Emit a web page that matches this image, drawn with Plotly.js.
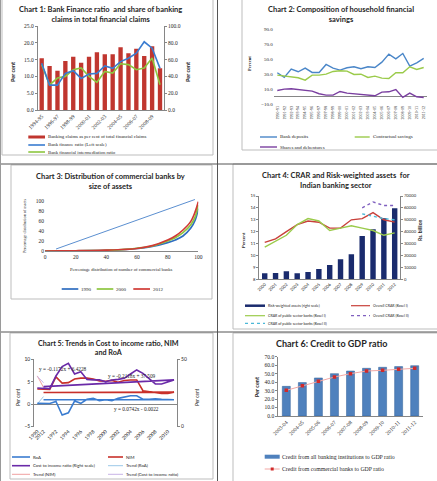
<!DOCTYPE html>
<html><head><meta charset="utf-8">
<script src="https://cdn.plot.ly/plotly-3.0.1.min.js"></script>
<style>html,body{margin:0;padding:0;background:#fff}#chart{width:437px;height:481px}</style>
</head><body><div id="chart"></div>
<script>
// ---------- DATA ----------
// Chart 1
const c1Years = ['1994-95','1995-96','1996-97','1997-98','1998-99','1999-00','2000-01','2001-02','2002-03','2003-04','2004-05','2005-06','2006-07','2007-08','2008-09','2009-10'];
const c1BankClaims = [61.5,52.4,46.8,58.3,63.5,56.3,63.5,68.7,66.3,66.3,74.6,67.5,73.0,64.3,75.8,49.6];
const c1FinanceRatio = [13.9,7.4,7.4,10.9,11.7,9.4,10.7,10.9,13.1,12.4,14.4,15.4,16.9,20.3,18.4,12.4];
const c1Intermediation = [54,30,38,40,48,50,40,33,46,44,55,54,48,50,62,30];
// Chart 2
const c2Years = ['1990-91','1991-92','1992-93','1993-94','1994-95','1995-96','1996-97','1997-98','1998-99','1999-00','2000-01','2001-02','2002-03','2003-04','2004-05','2005-06','2006-07','2007-08','2008-09','2009-10','2010-11','2011-12'];
const c2BankDeposits = [31.9,25.7,36.7,33.2,38.0,32.3,32.3,42.9,38.0,35.4,38.5,39.8,37.2,39.8,38.9,46.0,56.6,50.4,57.5,40.7,45.1,50.9];
const c2Contractual = [28.8,27.4,26.5,25.2,22.1,28.8,28.8,30.0,33.6,34.5,34.0,29.6,30.0,25.7,27.4,24.8,24.3,31.9,31.9,39.8,36.3,38.9];
const c2Shares = [8.4,10.2,10.6,9.7,9.3,7.5,4.0,2.2,2.2,7.0,4.9,4.0,2.2,2.2,1.3,6.2,6.6,9.7,-0.9,4.9,0.0,-0.9];
// Chart 3
const c3BanksPct = [0,10,20,30,40,50,60,70,80,85,90,95,98,100];
const c3Assets1990 = [0,0.2,0.4,0.7,1.2,2.5,5,9,16.7,22,30,45.3,62,85];
const c3Assets2000 = [0,0.2,0.4,0.8,1.4,2.8,5.5,10,20,26.7,36.7,52,68.7,92];
const c3Assets2012 = [0,0.2,0.5,0.9,1.6,3,5,10.7,22,30,42,58.7,78.7,98.7];
const c3LineX = [7.2,97.8];
const c3LineY = [4,103];
// Chart 4
const c4Years = ['2000','2001','2002','2003','2004','2005','2006','2007','2008','2009','2010','2011','2012'];
const c4RWA = [5000,5300,6700,5000,6200,8700,12000,16800,21000,36400,42000,51200,59700];
const c4OverallB1 = [11.1,11.4,12.0,12.6,12.9,12.8,12.3,12.3,13.0,13.1,13.6,13.0,12.8];
const c4PSBB1 = [10.7,11.2,11.7,12.6,13.1,12.9,12.1,12.3,12.5,12.3,12.1,11.7,11.9];
const c4OverallB2 = [null,null,null,null,null,null,null,null,null,14.0,14.5,14.2,14.2];
const c4PSBB2 = [null,null,null,null,null,null,null,null,null,13.5,13.3,13.1,13.0];
// Chart 5
const c5Years = ['1990','1991','1992','1993','1994','1995','1996','1997','1998','1999','2000','2001','2002','2003','2004','2005','2006','2007','2008','2009','2010','2011','2012'];
const c5RoA = [0.2,0.15,0.6,-2.4,-1.9,0.7,0.2,1.1,1.3,0.8,1.0,0.8,1.3,1.6,1.9,1.9,1.1,1.1,1.2,1.1,1.1,1.0,1.0];
const c5NIM = [3.4,3.3,6.1,4.7,4.8,5.6,5.8,5.8,5.6,5.2,5.1,5.3,4.9,5.3,5.4,5.4,3.0,2.8,2.6,2.4,2.4,2.7,2.6];
const c5CostIncome = [28.7,28.2,37.6,44.6,47.0,39.1,40.8,35.1,34.7,34.7,33.4,34.7,35.1,35.9,39.1,42.1,39.6,35.9,31.7,31.7,33.4,34.7,29.7];
const c5TrendRoA = [0.07,1.70];
const c5TrendNIM = [6.31,3.73];
const c5TrendCost = [37.30,32.64];
const c5Equations = ['y = -0.1172x + 6.4228','y = -0.2118x + 37.509','y = 0.0742x - 0.0022'];
// Chart 6
const c6Years = ['2003-04','2004-05','2005-06','2006-07','2007-08','2008-09','2009-10','2010-11','2011-12'];
const c6AllBanking = [35.0,39.4,44.9,50.0,53.1,56.3,57.5,58.3,59.4];
const c6Commercial = [30.3,35.8,40.9,46.0,50.0,53.1,53.9,55.1,56.3];

// ---------- HELPERS ----------
const W=437,H=481;
const X=p=>p/W, Y=p=>1-p/H;
const dom=(a,b)=>[X(a),X(b)];
const domY=(top,bot)=>[Y(bot),Y(top)];
const serif='Liberation Serif, serif';
const sans='Lato, Liberation Sans, sans-serif';
const grey='#868686';
const txt='#262626';
const evens=a=>a.filter((_,i)=>i%2===0);
const ends=a=>[a[0],a[a.length-1]];

function catAxis(d,n,extra){
  return Object.assign({domain:d,type:'category',range:[-0.5,n-0.5],showgrid:false,zeroline:false,
    showline:true,linecolor:grey,linewidth:1,ticks:'',fixedrange:true,automargin:false},extra);
}
function valAxis(extra){
  return Object.assign({showgrid:false,zeroline:false,showline:true,linecolor:grey,linewidth:1,
    ticks:'outside',ticklen:2,tickcolor:grey,fixedrange:true,automargin:false},extra);
}
const shapes=[];
const annotations=[];
function rect(x0,y0,x1,y1,line,fill,w){shapes.push({type:'rect',xref:'paper',yref:'paper',x0:X(x0),x1:X(x1),y0:Y(y1),y1:Y(y0),line:{color:line,width:w===undefined?1:w},fillcolor:fill||'rgba(0,0,0,0)',layer:'below'});}
function hline(x0,x1,y,color,w,dash){shapes.push({type:'line',xref:'paper',yref:'paper',x0:X(x0),x1:X(x1),y0:Y(y),y1:Y(y),line:{color:color,width:w,dash:dash||'solid'}});}
function vline(x,y0,y1,color,w){shapes.push({type:'line',xref:'paper',yref:'paper',x0:X(x),x1:X(x),y0:Y(y0),y1:Y(y1),line:{color:color,width:w}});}
function ann(x,y,text,size,family,opts){annotations.push(Object.assign({xref:'paper',yref:'paper',x:X(x),y:Y(y),text:text,showarrow:false,xanchor:'left',yanchor:'middle',borderpad:0,font:{size:size,family:family,color:txt}},opts||{}));}
function legRect(x0,x1,y,h,color){shapes.push({type:'rect',xref:'paper',yref:'paper',x0:X(x0),x1:X(x1),y0:Y(y+h/2),y1:Y(y-h/2),line:{width:0},fillcolor:color});}

// ---------- FRAMES / DIVIDERS ----------
rect(2,-1,213,155,'#BDBDBD');
rect(242,-1,438,150,'#BDBDBD');
rect(11,165,212,299,'#BDBDBD');
rect(233,164,438,329,'#BDBDBD');
rect(10,333,213,479,'#BDBDBD');
rect(233,333,438,485,'#BDBDBD');
vline(217.5,0,481,'#555555',1);
hline(0,437,164,'#555555',1);
hline(0,437,332,'#555555',1);
vline(0.5,0,481,'#9a9a9a',1);

// ---------- TRACES ----------
const traces=[
  // Chart 1
  {type:'bar',x:c1Years,y:c1BankClaims,xaxis:'x',yaxis:'y',width:0.55,marker:{color:'#C0362F',line:{width:0}}},
  {type:'scatter',mode:'lines',x:c1Years,y:c1Intermediation,xaxis:'x',yaxis:'y',line:{color:'#8DC63F',width:1.6}},
  {type:'scatter',mode:'lines',x:c1Years,y:c1FinanceRatio,xaxis:'x',yaxis:'y2',line:{color:'#3A7CD0',width:1.6}},
  // Chart 2
  {type:'scatter',mode:'lines',x:c2Years,y:c2BankDeposits,xaxis:'x2',yaxis:'y3',line:{color:'#4A86C8',width:1.4}},
  {type:'scatter',mode:'lines',x:c2Years,y:c2Contractual,xaxis:'x2',yaxis:'y3',line:{color:'#9BCB4B',width:1.4}},
  {type:'scatter',mode:'lines',x:c2Years,y:c2Shares,xaxis:'x2',yaxis:'y3',line:{color:'#7A3FA0',width:1.4}},
  // Chart 3
  {type:'scatter',mode:'lines',x:c3LineX,y:c3LineY,xaxis:'x3',yaxis:'y4',line:{color:'#5B8FD0',width:1}},
  {type:'scatter',mode:'lines',x:c3BanksPct,y:c3Assets1990,xaxis:'x3',yaxis:'y4',line:{color:'#2F6DC0',width:1.7,shape:'spline'}},
  {type:'scatter',mode:'lines',x:c3BanksPct,y:c3Assets2000,xaxis:'x3',yaxis:'y4',line:{color:'#8DC63F',width:1.7,shape:'spline'}},
  {type:'scatter',mode:'lines',x:c3BanksPct,y:c3Assets2012,xaxis:'x3',yaxis:'y4',line:{color:'#D03A35',width:1.7,shape:'spline'}},
  // Chart 4
  {type:'bar',x:c4Years,y:c4RWA,xaxis:'x4',yaxis:'y5',width:0.5,marker:{color:'#1A2B6D',line:{width:0}}},
  {type:'scatter',mode:'lines',x:c4Years,y:c4OverallB1,xaxis:'x4',yaxis:'y6',line:{color:'#C8403A',width:1.4}},
  {type:'scatter',mode:'lines',x:c4Years,y:c4PSBB1,xaxis:'x4',yaxis:'y6',line:{color:'#9BCB4B',width:1.4}},
  {type:'scatter',mode:'lines',x:c4Years,y:c4OverallB2,xaxis:'x4',yaxis:'y6',line:{color:'#7F5FBF',width:1.4,dash:'dot'}},
  {type:'scatter',mode:'lines',x:c4Years,y:c4PSBB2,xaxis:'x4',yaxis:'y6',line:{color:'#4BB8D8',width:1.4,dash:'dot'}},
  // Chart 5
  {type:'scatter',mode:'lines',x:ends(c5Years),y:c5TrendRoA,xaxis:'x5',yaxis:'y7',line:{color:'#9CC8E8',width:1}},
  {type:'scatter',mode:'lines',x:ends(c5Years),y:c5TrendNIM,xaxis:'x5',yaxis:'y7',line:{color:'#F0A0A0',width:1}},
  {type:'scatter',mode:'lines',x:c5Years,y:c5RoA,xaxis:'x5',yaxis:'y7',line:{color:'#3A7CD0',width:1.6}},
  {type:'scatter',mode:'lines',x:c5Years,y:c5NIM,xaxis:'x5',yaxis:'y7',line:{color:'#C8302A',width:1.6}},
  {type:'scatter',mode:'lines',x:ends(c5Years),y:c5TrendCost,xaxis:'x5',yaxis:'y8',line:{color:'#C9B3E6',width:1}},
  {type:'scatter',mode:'lines',x:c5Years,y:c5CostIncome,xaxis:'x5',yaxis:'y8',line:{color:'#6A2AA8',width:1.6}},
  // Chart 6
  {type:'bar',x:c6Years,y:c6AllBanking,xaxis:'x6',yaxis:'y9',width:0.5,marker:{color:'#4F81BD',line:{color:'#2E5E99',width:0.5}}},
  {type:'scatter',mode:'lines+markers',x:c6Years,y:c6Commercial,xaxis:'x6',yaxis:'y9',line:{color:'#F2A7A4',width:1},marker:{symbol:'square',size:3.5,color:'#D02A2A'}}
];

// ---------- AXES ----------
const f=(s,fam)=>({size:s,family:fam,color:txt});
const layout={
  width:W,height:H,margin:{l:0,r:0,t:0,b:0},paper_bgcolor:'#fff',plot_bgcolor:'rgba(0,0,0,0)',
  showlegend:false,barmode:'overlay',
  // Chart 1
  xaxis:catAxis(dom(37.75,163.95),16,{anchor:'y',tickvals:evens(c1Years),ticktext:evens(c1Years),tickangle:-45,tickfont:f(5.5,serif)}),
  yaxis:valAxis({domain:domY(26,110),anchor:'x',side:'right',range:[0,100],tickvals:[0,20,40,60,80,100],tickformat:'.1f',tickfont:f(5.5,serif)}),
  yaxis2:valAxis({overlaying:'y',anchor:'x',side:'left',range:[0,25],tickvals:[0,5,10,15,20,25],tickformat:'.1f',tickfont:f(5.5,serif)}),
  // Chart 2
  xaxis2:catAxis(dom(273.8,427.2),22,{anchor:'y3',showline:false,tickangle:-90,tickfont:f(4,serif)}),
  yaxis3:valAxis({domain:domY(29,104.3),anchor:'x2',range:[-10,90],tickvals:[-10,10,30,50,70,90],tickformat:'.1f',showline:false,ticks:'',zeroline:true,zerolinecolor:grey,zerolinewidth:1,tickfont:f(5,serif)}),
  // Chart 3
  xaxis3:valAxis({domain:dom(45,198.3),anchor:'y4',range:[0,100],tickvals:[0,20,40,60,80,100],ticks:'',tickfont:f(5.5,serif)}),
  yaxis4:valAxis({domain:domY(199,251),anchor:'x3',range:[0,104],tickvals:[0,20,40,60,80,100],showline:false,ticks:'',tickfont:f(5.5,serif)}),
  // Chart 4
  xaxis4:catAxis(dom(259.3,400.1),13,{anchor:'y5',tickangle:-45,tickfont:f(4.2,sans)}),
  yaxis5:valAxis({domain:domY(196,279.3),anchor:'x4',side:'right',range:[0,70000],tickvals:[0,10000,20000,30000,40000,50000,60000,70000],tickformat:'d',tickfont:f(4.2,sans)}),
  yaxis6:valAxis({overlaying:'y5',anchor:'x4',side:'left',range:[8,15],tickvals:[8,9,10,11,12,13,14,15],tickformat:'d',tickfont:f(4.2,sans)}),
  // Chart 5
  xaxis5:catAxis(dom(34.2,177.1),23,{anchor:'y7',showline:false,tickvals:evens(c5Years),ticktext:evens(c5Years),tickangle:-45,tickfont:f(5,sans)}),
  yaxis7:valAxis({domain:domY(359.3,426.7),anchor:'x5',range:[-5,10],tickvals:[-5,0,5,10],zeroline:true,zerolinecolor:grey,zerolinewidth:1,tickfont:f(5,sans)}),
  yaxis8:valAxis({overlaying:'y7',anchor:'x5',side:'right',range:[0,50],tickvals:[0,50],tickfont:f(5,sans)}),
  // Chart 6
  xaxis6:catAxis(dom(278.3,422.7),9,{anchor:'y9',tickangle:-45,tickfont:f(5.5,serif)}),
  yaxis9:valAxis({domain:domY(356.7,416),anchor:'x6',range:[0,70],tickvals:[0,10,20,30,40,50,60,70],tickformat:'.1f',tickfont:f(5.5,serif)}),
  shapes:shapes,annotations:annotations
};

// ---------- TITLES / AXIS TITLES ----------
const tB=(s)=>({size:s,family:sans,color:txt});
function title(x,y,text,size){annotations.push({xref:'paper',yref:'paper',x:X(x),y:Y(y),text:'<b>'+text+'</b>',showarrow:false,xanchor:'center',yanchor:'middle',align:'center',font:tB(size)});}
function vtitle(x,y,text,size,fam,bold){annotations.push({xref:'paper',yref:'paper',x:X(x),y:Y(y),text:bold?'<b>'+text+'</b>':text,showarrow:false,xanchor:'center',yanchor:'middle',textangle:-90,font:f(size,fam)});}

title(100,14,'Chart 1: Bank Finance ratio  and share of banking<br>claims in total financial claims',7.5);
vtitle(13,72,'Per cent',5.5,sans,true);
vtitle(188,72,'Per cent',5.5,sans,true);

title(341,14,'Chart 2: Composition of household financial<br>savings',7.5);
vtitle(249,64,'Percent',4.5,serif,true);

title(110,181.7,'Chart 3: Distribution of commercial banks by<br>size of assets',7.5);
vtitle(24,226,'Percentage distribution of assets',4.2,serif,false);
annotations.push({xref:'paper',yref:'paper',x:X(121),y:Y(269),text:'Percentage distribution of number of commercial banks',showarrow:false,xanchor:'center',yanchor:'middle',font:f(4.6,serif)});

title(336,181,'Chart 4: CRAR and Risk-weighted assets  for<br>Indian banking sector',7.5);
vtitle(243,240,'Percent',4.5,sans,true);
vtitle(420,230,'Rs. billion',5,sans,true);

title(108,348,'Chart 5: Trends in Cost to income ratio, NIM<br>and RoA',7.2);
vtitle(18,397,'Per cent',4.8,sans,false);
vtitle(197,397,'Per cent',4.8,sans,false);
ann(37.5,369,c5Equations[0],5.3,serif);
ann(106.5,375.5,c5Equations[1],5.3,serif);
ann(113,408.5,c5Equations[2],5.3,serif);

title(331,343.5,'Chart 6: Credit to GDP ratio',9);
vtitle(256.5,386.7,'Per cent',5.5,sans,true);

// ---------- LEGENDS ----------
// Chart 1
legRect(28.3,45,137,3,'#C0362F'); ann(46.7,137,'Banking claims as per cent of total financial claims',4.8,serif);
hline(28.3,45,145,'#3A7CD0',1.6); ann(46.7,145,'Bank finance ratio (Left scale)',4.8,serif);
hline(28.3,45,152,'#8DC63F',1.6); ann(46.7,152,'Bank financial intermediation ratio',4.8,serif);
// Chart 2
hline(260,277,137,'#4A86C8',1.4); ann(279,137,'Bank deposits',5,serif);
hline(354.7,369.7,137,'#9BCB4B',1.4); ann(372,137,'Contractual savings',5,serif);
hline(260,277,147,'#7A3FA0',1.4); ann(279,147,'Shares and debentures',5,serif);
// Chart 3
hline(61.7,78.3,289,'#2F6DC0',1.7); ann(80,289,'1990',5,serif);
hline(96.7,113.3,289,'#8DC63F',1.7); ann(115,289,'2000',5,serif);
hline(133.3,150,289,'#D03A35',1.7); ann(152,289,'2012',5,serif);
// Chart 4
legRect(245,265,305.7,2.5,'#1A2B6D'); ann(267,305.7,'Risk-weighted assets (right scale)',3.6,sans);
hline(351,370,305.7,'#C8403A',1.2); ann(372,305.7,'Overall CRAR (Basel I)',3.6,sans);
hline(245,265,315.7,'#9BCB4B',1.2); ann(267,315.7,'CRAR of public sector banks (Basel I)',3.6,sans);
hline(351,370,315.7,'#7F5FBF',1.2,'dot'); ann(372,315.7,'Overall CRAR (Basel II)',3.6,sans);
hline(245,265,323.3,'#4BB8D8',1.2,'dot'); ann(267,323.3,'CRAR of public sector banks (Basel II)',3.6,sans);
// Chart 5
hline(12,30,457,'#3A7CD0',1.6); ann(32,457,'RoA',4.3,sans);
hline(108,123,457,'#C8302A',1.6); ann(125,457,'NIM',4.3,sans);
hline(12,30,465.7,'#6A2AA8',1.6); ann(32,465.7,'Cost to income ratio (Right scale)',4.3,sans);
hline(108,123,465.7,'#9CC8E8',1); ann(125,465.7,'Trend (RoA)',4.3,sans);
hline(12,30,474.3,'#F0A0A0',1); ann(32,474.3,'Trend (NIM)',4.3,sans);
hline(108,123,474.3,'#C9B3E6',1); ann(125,474.3,'Trend (Cost to income ratio)',4.3,sans);
// Chart 6
legRect(264.7,279.7,456.7,4,'#4F81BD'); ann(281,456.7,'Credit from all banking institutions to GDP ratio',5.8,serif);
hline(264.7,279.7,469,'#F2A7A4',1); legRect(270.7,273.7,469,3,'#D02A2A'); ann(281,469,'Credit from commercial banks to GDP ratio',5.8,serif);

Plotly.newPlot('chart',traces,layout,{staticPlot:true,displayModeBar:false});
</script></body></html>
